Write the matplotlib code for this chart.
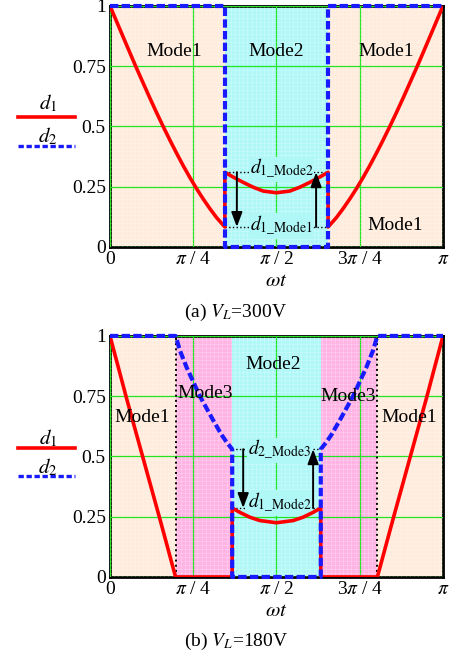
# -*- coding: utf-8 -*-
# duty cycle d1 / d2 over half a line period, two load voltages
import numpy as np
from matplotlib import pyplot as plt
from matplotlib.lines import Line2D

plt.rcParams['font.family'] = ['Liberation Serif', 'DejaVu Serif']
plt.rcParams['mathtext.fontset'] = 'stix'

# ---- (a) VL = 300V, x in units of pi ----
a_left_x = [0, 0.02, 0.04, 0.06, 0.08, 0.1, 0.12, 0.14, 0.16, 0.18, 0.2,
            0.22, 0.24, 0.26, 0.28, 0.3, 0.32, 0.345]
a_left_y = [1.0, 0.935, 0.87, 0.805, 0.741, 0.679, 0.617, 0.557, 0.499, 0.443, 0.389,
            0.337, 0.288, 0.242, 0.199, 0.159, 0.122, 0.083]
a_mid_x = [0.345, 0.37, 0.4, 0.43, 0.46, 0.5, 0.54, 0.57, 0.6, 0.63, 0.655]
a_mid_y = [0.31, 0.29, 0.268, 0.248, 0.232, 0.225, 0.232, 0.248, 0.268, 0.29, 0.31]
a_right_x = [0.655, 0.68, 0.7, 0.72, 0.74, 0.76, 0.78, 0.8, 0.82, 0.84, 0.86,
             0.88, 0.9, 0.92, 0.94, 0.96, 0.98, 1.0]
a_right_y = [0.083, 0.122, 0.159, 0.199, 0.242, 0.288, 0.337, 0.389, 0.443, 0.499, 0.557,
             0.617, 0.679, 0.741, 0.805, 0.87, 0.935, 1.0]
a_d2_x = [0, 0.345, 0.345, 0.655, 0.655, 1.0]
a_d2_y = [1, 1, 0, 0, 1, 1]
a_regions = [(0, 0.345, 'm1'), (0.345, 0.655, 'm2'), (0.655, 1.0, 'm1')]
a_labels = [('Mode1', 0.193, 0.81), ('Mode2', 0.5, 0.81),
            ('Mode1', 0.83, 0.81), ('Mode1', 0.856, 0.09)]

# ---- (b) VL = 180V ----
b_d1_x = [0, 0.05, 0.1, 0.15, 0.197, 0.367,
          0.367, 0.39, 0.42, 0.45, 0.5, 0.55, 0.58, 0.61, 0.633,
          0.633, 0.803, 0.85, 0.9, 0.95, 1.0]
b_d1_y = [1.0, 0.74, 0.49, 0.24, 0.0, 0.0,
          0.286, 0.268, 0.248, 0.234, 0.225, 0.234, 0.248, 0.268, 0.286,
          0.0, 0.0, 0.24, 0.49, 0.74, 1.0]
b_d2_x = [0, 0.197, 0.21, 0.23, 0.25, 0.27, 0.29, 0.31, 0.335, 0.35, 0.367, 0.367,
          0.633, 0.633, 0.65, 0.665, 0.69, 0.71, 0.73, 0.75, 0.77, 0.79, 0.803, 1.0]
b_d2_y = [1, 1, 0.94, 0.87, 0.81, 0.75, 0.70, 0.65, 0.59, 0.56, 0.53, 0,
          0, 0.53, 0.56, 0.59, 0.65, 0.70, 0.75, 0.81, 0.87, 0.94, 1, 1]
b_regions = [(0, 0.197, 'm1'), (0.197, 0.367, 'm3'), (0.367, 0.633, 'm2'),
             (0.633, 0.803, 'm3'), (0.803, 1.0, 'm1')]
b_labels = [('Mode1', 0.098, 0.66), ('Mode3', 0.285, 0.76), ('Mode2', 0.49, 0.88),
            ('Mode3', 0.715, 0.75), ('Mode1', 0.9, 0.66)]
b_bounds = [0.197, 0.803]

xticks = [0, 0.25, 0.5, 0.75, 1.0]
xticklabels = ['0', r'$\pi$ / 4', r'$\pi$ / 2', r'3$\pi$ / 4', r'$\pi$']
yticks = [0, 0.25, 0.5, 0.75, 1]
yticklabels = ['0', '0.25', '0.5', '0.75', '1']

fills = {'m1': '#ffecdc', 'm2': '#b0f8f8', 'm3': '#ffb4e4'}
RED = '#ff0000'
BLUE = '#1a1aff'
GREEN = '#22e622'


def base_axes(ax, regions, d1x, d1y, d2x, d2y, labels):
    for x0, x1, m in regions:
        ax.axvspan(x0, x1, color=fills[m], lw=0, zorder=0)
    ax.set_xticks(np.arange(0, 1.0001, 1 / 80.), minor=True)
    ax.set_yticks(np.arange(0, 1.0001, 1 / 60.), minor=True)
    ax.grid(which='minor', color='white', lw=0.4, alpha=0.35, zorder=0.5)
    ax.set_xticks(xticks)
    ax.set_xticklabels(xticklabels)
    ax.set_yticks(yticks)
    ax.set_yticklabels(yticklabels)
    ax.grid(which='major', color=GREEN, lw=0.9, zorder=1)
    ax.set_axisbelow(False)
    ax.tick_params(which='both', length=0, labelsize=14)
    ax.tick_params(axis='x', pad=3)
    ax.tick_params(axis='y', pad=3)
    ax.set_xlim(0, 1)
    ax.set_ylim(0, 1)
    for s in ax.spines.values():
        s.set_linewidth(2)
        s.set_zorder(2)
    ax.plot(d1x, d1y, color=RED, lw=2.6, zorder=4, solid_joinstyle='round')
    ax.plot(d2x, d2y, color=BLUE, lw=3, ls=(0, (2, 0.8)), zorder=5, clip_on=False)
    for t, x, y in labels:
        ax.text(x, y, t, fontsize=14, ha='center', va='center', zorder=8)
    ax.set_xlabel(r'$\omega t$', fontsize=15, labelpad=3)


def jump(ax, x0, x1, ylo, yhi, xdn, xup, top_lab, bot_lab, lab_x, dy_top, dy_bot):
    ax.plot([x0, x1], [yhi, yhi], color='k', ls=':', lw=1, zorder=3)
    ax.plot([x0, x1], [ylo, ylo], color='k', ls=':', lw=1, zorder=3)
    arr = dict(arrowstyle='-|>,head_width=0.3,head_length=0.8', mutation_scale=11,
               color='k', lw=1.4, shrinkA=0, shrinkB=0)
    ax.annotate('', xy=(xdn, ylo), xytext=(xdn, yhi), arrowprops=arr, zorder=6)
    ax.annotate('', xy=(xup, yhi), xytext=(xup, ylo), arrowprops=arr, zorder=6)
    bb = dict(facecolor=fills['m2'], edgecolor='none', pad=0.5)
    ax.text(lab_x, yhi + dy_top, top_lab, fontsize=14, ha='left', va='center',
            zorder=3.5, bbox=bb)
    ax.text(lab_x, ylo + dy_bot, bot_lab, fontsize=14, ha='left', va='center',
            zorder=3.5, bbox=bb)


fig = plt.figure(figsize=(4.5, 6.6), dpi=100)
ax1 = fig.add_axes([0.2444, 0.6258, 0.74, 0.3652])
ax2 = fig.add_axes([0.2444, 0.1258, 0.74, 0.3652])

base_axes(ax1, a_regions, a_left_x + a_mid_x + a_right_x,
          a_left_y + a_mid_y + a_right_y, a_d2_x, a_d2_y, a_labels)
jump(ax1, 0.345, 0.655, 0.083, 0.31, 0.381, 0.619,
     r'$d_{1\_\mathrm{Mode2}}$', r'$d_{1\_\mathrm{Mode1}}$', 0.42, 0.012, 0.005)

base_axes(ax2, b_regions, b_d1_x, b_d1_y, b_d2_x, b_d2_y, b_labels)
for xb in b_bounds:
    ax2.plot([xb, xb], [0, 1], color='k', ls=':', lw=1.4, zorder=3)
jump(ax2, 0.367, 0.633, 0.286, 0.53, 0.40, 0.61,
     r'$d_{2\_\mathrm{Mode3}}$', r'$d_{1\_\mathrm{Mode2}}$', 0.415, -0.005, 0.02)

# left-side legends
for ytxt1, yred, ytxt2, yblue in [(0.844, 0.8227, 0.794, 0.7788),
                                  (0.3364, 0.3212, 0.2924, 0.2788)]:
    fig.text(0.1067, ytxt1, r'$d_1$', fontsize=15, ha='center', va='center')
    fig.add_artist(Line2D([0.04, 0.167], [yred, yred], color=RED, lw=2.6))
    fig.text(0.1067, ytxt2, r'$d_2$', fontsize=15, ha='center', va='center')
    fig.add_artist(Line2D([0.04, 0.167], [yblue, yblue], color=BLUE, lw=2.4,
                          ls=(0, (1.6, 0.8))))

fig.text(0.524, 0.527, r'(a) $V_L$=300V', fontsize=14, ha='center', va='center')
fig.text(0.524, 0.028, r'(b) $V_L$=180V', fontsize=14, ha='center', va='center')

fig.savefig('out.png', dpi=100)
